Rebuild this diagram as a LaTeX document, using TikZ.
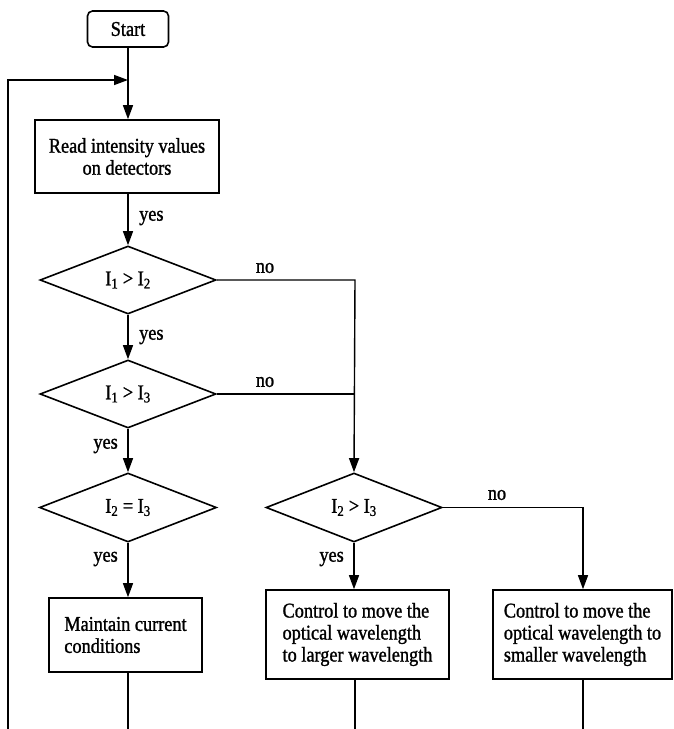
\documentclass[tikz,border=0pt]{standalone}
\usepackage{fontspec}
\setmainfont{Liberation Serif}[FakeStretch=0.87,FakeBold=1.2]
\usetikzlibrary{shapes.geometric,arrows.meta}
\begin{document}
\begin{tikzpicture}[x=1pt,y=-1pt,
  font=\fontsize{21}{22}\selectfont,
  every node/.style={inner sep=0pt},
  box/.style={draw,line width=1.6pt,inner sep=0pt},
  dec/.style={draw,diamond,aspect=2.6,inner sep=0pt,minimum width=176pt,minimum height=68pt,line width=1.6pt},
  conn/.style={line width=1.4pt},
  arr/.style={conn,-{Triangle[length=14pt,width=10pt]}},
  lbl/.style={inner sep=0pt}
]
\useasboundingbox (0,0) rectangle (673,729);

% nodes
\node[box,rounded corners=5pt,minimum width=81pt,minimum height=36pt] (start) at (128,29) {Start};
\node[box,align=center,minimum width=184pt,minimum height=73pt] (read) at (127,156.5) {Read intensity values\\on detectors};
\node[dec] (d1) at (128,280) {I\textsubscript{1} > I\textsubscript{2}};
\node[dec] (d2) at (128,394) {I\textsubscript{1} > I\textsubscript{3}};
\node[dec,minimum width=177pt,minimum height=69pt] (d3) at (128,507.5) {I\textsubscript{2} = I\textsubscript{3}};
\node[dec,minimum width=176pt,minimum height=69pt] (d4) at (354,507.5) {I\textsubscript{2} > I\textsubscript{3}};

\node[box,align=left,minimum width=153pt,minimum height=74pt] (maintain) at (125.5,635) {Maintain current\\conditions};
\node[box,align=left,minimum width=183pt,minimum height=89pt] (larger) at (357.5,634.5) {Control to move the\\optical wavelength\\to larger wavelength};
\node[box,align=left,minimum width=179pt,minimum height=89pt] (smaller) at (582.5,634.5) {Control to move the\\optical wavelength to\\smaller wavelength};

% labels
\node[lbl,anchor=west] (y1) at (139,218) {yes};
\node[lbl] (n1) at (265,268) {no};
\node[lbl,anchor=west] (y2) at (139,337) {yes};
\node[lbl] (n2) at (265,382) {no};
\node[lbl,anchor=east] (y3) at (118,446) {yes};
\node[lbl,anchor=east] (y4) at (118,559) {yes};
\node[lbl,anchor=east] (y5) at (344,559) {yes};
\node[lbl] (n3) at (497,495) {no};

% coordinates
\coordinate (join) at (128,80);
\coordinate (lt) at (8,80);
\coordinate (lb) at (8,729);
\coordinate (rx) at (355,280);
\coordinate (rx2) at (355,394);
\coordinate (sx) at (583,507.5);
\coordinate (mb) at (128,729);
\coordinate (lgb) at (355,729);
\coordinate (smb) at (583,729);

% connectors
\draw[arr] (start.south) -- (start.south |- read.north);
\draw[arr] (lb) -- (lt) -- (join);
\draw[arr] (start.south |- read.south) -- (d1.north);
\draw[arr] (d1.south) -- (d2.north);
\draw[arr] (d2.south) -- (d3.north);
\draw[arr] (d3.south) -- (d3.south |- maintain.north);
\draw[arr] (d1.east) -- (rx) -- (d4.north);
\draw[conn] (d2.east) -- (rx2);
\draw[arr] (d4.south) -- (d4.south |- larger.north);
\draw[arr] (d4.east) -- (sx) -- (sx |- smaller.north);
\draw[conn] (mb |- maintain.south) -- (mb);
\draw[conn] (lgb |- larger.south) -- (lgb);
\draw[conn] (smb |- smaller.south) -- (smb);
\end{tikzpicture}
\end{document}
